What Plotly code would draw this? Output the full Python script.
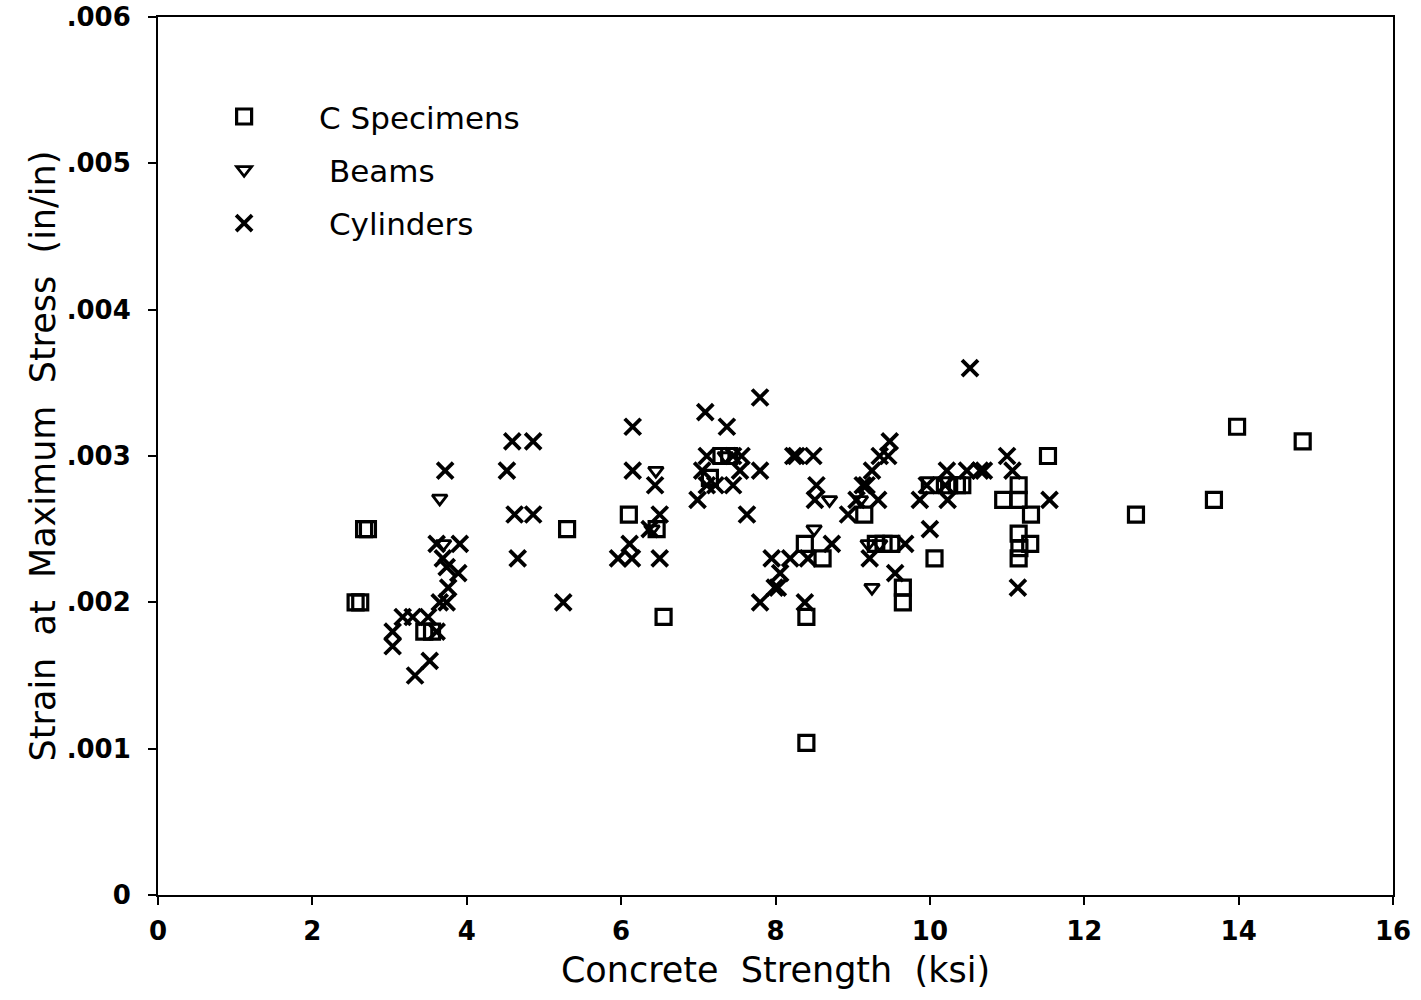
import plotly.graph_objects as go

# Concrete strength (ksi) and strain at maximum stress (in/in)
c_spec_x = [2.56, 2.62, 2.67, 2.72, 3.45, 3.55, 5.30, 6.10, 6.46, 6.55, 7.15, 7.30, 7.40,
            8.38, 8.40, 8.40, 8.61, 9.15, 9.30, 9.40, 9.50, 9.65, 9.65, 10.06, 10.00,
            10.25, 10.35, 10.42, 10.95, 11.15, 11.15, 11.31, 11.15, 11.30, 11.15, 11.16,
            11.53, 12.67, 13.68, 13.98, 14.83]
c_spec_y = [0.00200, 0.00200, 0.00250, 0.00250, 0.00180, 0.00180, 0.00250, 0.00260, 0.00250,
            0.00190, 0.00285, 0.00300, 0.00300, 0.00240, 0.00190, 0.00104, 0.00230, 0.00260,
            0.00240, 0.00240, 0.00240, 0.00210, 0.00200, 0.00230, 0.00280, 0.00280, 0.00280,
            0.00280, 0.00270, 0.00270, 0.00280, 0.00260, 0.00247, 0.00240, 0.00230, 0.00237,
            0.00300, 0.00260, 0.00270, 0.00320, 0.00310]

beams_x = [3.65, 3.70, 6.45, 6.40, 7.35, 8.50, 8.70, 9.10, 9.20, 9.35, 9.25]
beams_y = [0.00271, 0.00240, 0.00290, 0.00250, 0.00300, 0.00250, 0.00270, 0.00270,
           0.00240, 0.00240, 0.00210]

cyl_x = [4.59, 4.86, 3.72, 4.52, 4.62, 4.86, 4.66, 3.61, 3.91, 3.89, 3.74, 3.69, 3.76,
         3.65, 3.74, 3.17, 3.04, 3.04, 3.30, 3.50, 3.61, 3.33, 3.52, 5.25,
         7.80, 7.09, 7.37, 6.15, 6.15, 6.44, 6.50, 6.11, 5.96, 6.14, 6.50, 6.37,
         7.11, 7.45, 7.56, 7.05, 6.99, 7.11, 7.22, 7.45, 7.54, 7.80, 7.63, 8.23,
         7.95, 8.19, 8.03, 7.80, 8.06,
         10.52, 9.48, 9.46, 9.35, 9.25, 9.13, 8.27, 8.49, 8.53, 8.51, 9.05, 9.33,
         8.94, 9.18, 8.73, 8.42, 7.99, 8.38, 9.22, 9.68, 9.55, 10.00, 9.87, 9.96,
         10.22, 10.48, 10.65, 10.23, 10.20, 11.00, 11.07, 10.70, 11.55, 11.14]
cyl_y = [0.00310, 0.00310, 0.00290, 0.00290, 0.00260, 0.00260, 0.00230, 0.00240, 0.00240,
         0.00220, 0.00224, 0.00230, 0.00210, 0.00200, 0.00200, 0.00190, 0.00180, 0.00170,
         0.00190, 0.00190, 0.00180, 0.00150, 0.00160, 0.00200,
         0.00340, 0.00330, 0.00320, 0.00320, 0.00290, 0.00280, 0.00260, 0.00240, 0.00230,
         0.00230, 0.00230, 0.00250, 0.00300, 0.00300, 0.00300, 0.00290, 0.00270, 0.00280,
         0.00280, 0.00280, 0.00290, 0.00290, 0.00260, 0.00300, 0.00230, 0.00230, 0.00210,
         0.00200, 0.00220,
         0.00360, 0.00310, 0.00300, 0.00300, 0.00290, 0.00280, 0.00300, 0.00300, 0.00280,
         0.00270, 0.00270, 0.00270, 0.00260, 0.00280, 0.00240, 0.00230, 0.00210, 0.00200,
         0.00230, 0.00240, 0.00220, 0.00250, 0.00270, 0.00280, 0.00290, 0.00290, 0.00290,
         0.00270, 0.00280, 0.00300, 0.00290, 0.00290, 0.00270, 0.00210]

x_ticks = [0, 2, 4, 6, 8, 10, 12, 14, 16]
y_ticks = [0, 0.001, 0.002, 0.003, 0.004, 0.005, 0.006]
y_tick_text = ["0", ".001", ".002", ".003", ".004", ".005", ".006"]

FONT = "DejaVu Sans"

fig = go.Figure()
fig.add_trace(go.Scatter(
    x=c_spec_x, y=c_spec_y, mode="markers", name="C Specimens", legendgroup="a",
    marker=dict(symbol="square-open", size=15, color="black", line=dict(width=3.2, color="black")),
))
fig.add_trace(go.Scatter(
    x=beams_x, y=beams_y, mode="markers", name=" Beams", legendgroup="b",
    marker=dict(symbol="triangle-down-open", size=13, color="black", line=dict(width=2.8, color="black")),
))
fig.add_trace(go.Scatter(
    x=cyl_x, y=cyl_y, mode="markers", name=" Cylinders", legendgroup="c",
    marker=dict(symbol="x-thin-open", size=16, color="black", line=dict(width=3.8, color="black")),
))

axis_common = dict(
    showgrid=False, zeroline=False, showline=True, linecolor="black", linewidth=2,
    mirror=True, ticks="outside", ticklen=8, tickwidth=2, tickcolor="black",
    automargin=False,
    tickfont=dict(family=FONT, size=26, color="black", weight="bold"),
)

fig.update_layout(
    width=1421, height=1000,
    margin=dict(l=158, r=28, t=17, b=105),
    paper_bgcolor="white", plot_bgcolor="white",
    font=dict(family=FONT, color="black"),
    xaxis=dict(
        range=[0, 16], tickvals=x_ticks,
        title=dict(text="Concrete  Strength  (ksi)", font=dict(family=FONT, size=35), standoff=12),
        ticklabelstandoff=4,
        **axis_common,
    ),
    yaxis=dict(
        range=[0, 0.006], tickvals=y_ticks, ticktext=y_tick_text,
        title=dict(text="Strain  at  Maximum  Stress  (in/in)", font=dict(family=FONT, size=35), standoff=0),
        ticklabelstandoff=12,
        **axis_common,
    ),
    legend=dict(
        x=0.009, y=0.917, xanchor="left", yanchor="top",
        bgcolor="rgba(0,0,0,0)", font=dict(family=FONT, size=31, color="black"),
        itemwidth=140, tracegroupgap=10,
    ),
)

fig.write_html("out.html")
